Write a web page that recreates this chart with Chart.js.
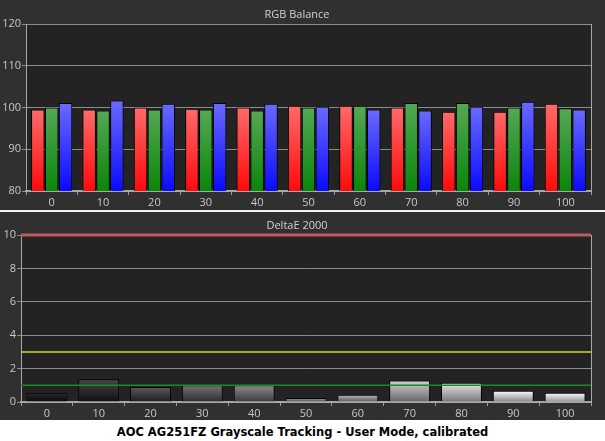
<!DOCTYPE html>
<html>
<head>
<meta charset="utf-8">
<script src="https://cdn.jsdelivr.net/npm/chart.js@4.4.0/dist/chart.umd.min.js"></script>
<style>
  body { margin: 0; background: #fff; }
  #wrap { position: relative; width: 605px; height: 441px; background: #fff; overflow: hidden; }
  #topBox { position: absolute; left: 0; top: 0; width: 605px; height: 210px; background: #303030; }
  #sep { position: absolute; left: 0; top: 210px; width: 605px; height: 2px; background: #f2f2f2; }
  #botBox { position: absolute; left: 0; top: 212px; width: 605px; height: 208px; background: #303030; }
  #caption { position: absolute; left: 0; top: 425px; width: 605px; height: 16px; line-height: 16px;
    text-align: center; font: bold 11.5px "DejaVu Sans", sans-serif; color: #000; }
  canvas { display: block; }
</style>
</head>
<body>
<div id="wrap">
  <div id="topBox"><canvas id="rgb" width="605" height="210"></canvas></div>
  <div id="sep"></div>
  <div id="botBox"><canvas id="de" width="605" height="208"></canvas></div>
  <div id="caption">AOC AG251FZ Grayscale Tracking - User Mode, calibrated</div>
</div>
<script>
// grayscale steps (%)
const levels = ['0', '10', '20', '30', '40', '50', '60', '70', '80', '90', '100'];

// RGB balance
const redVals   = [99.5, 99.5, 100.0, 99.7, 100.0, 100.4, 100.4, 100.0, 99.0, 99.0, 100.9];
const greenVals = [100.0, 99.3, 99.5, 99.5, 99.3, 100.0, 100.4, 101.1, 101.1, 100.0, 99.8];
const blueVals  = [101.1, 101.7, 100.9, 101.1, 100.9, 100.2, 99.5, 99.3, 100.2, 101.4, 99.5];

// DeltaE 2000 per step
const deltaE = [0.56, 1.36, 0.9, 1.0, 1.0, 0.24, 0.44, 1.28, 1.16, 0.68, 0.56];

// threshold lines on the deltaE chart
const deLimits = [10, 3, 1];

const rgbTicks = [80, 90, 100, 110, 120];
const deTicks = [0, 2, 4, 6, 8, 10];

Chart.defaults.font.family = '"Open Sans", sans-serif';
Chart.defaults.font.size = 11;
Chart.defaults.color = '#c8c8c8';
Chart.defaults.animation = false;

function barGradient(c, topCol, botCol) {
  const chart = c.chart;
  if (!chart.chartArea) return botCol;
  const y = chart.scales.y;
  const v = c.dataset.data[c.dataIndex];
  const y0 = y.getPixelForValue(v);
  const y1 = y.getPixelForValue(y.min);
  const g = chart.ctx.createLinearGradient(0, y0, 0, y1);
  g.addColorStop(0, topCol);
  g.addColorStop(1, botCol);
  return g;
}

function grayFor(c) {
  const lvl = parseInt(levels[c.dataIndex]);
  const base = Math.round(lvl / 100 * 235);
  const t = Math.min(255, base + 45), b = Math.max(8, Math.round(base * 0.62));
  return barGradient(c, `rgb(${t},${t},${t})`, `rgb(${b},${b},${b})`);
}

// fill the plot area and draw its frame and a small title
function framePlugin(title, titleY) {
  return {
    id: 'frame',
    beforeDraw(chart) {
      const a = chart.chartArea, ctx = chart.ctx;
      ctx.save();
      ctx.fillStyle = '#232323';
      ctx.fillRect(a.left, a.top, a.right - a.left, a.bottom - a.top);
      ctx.fillStyle = '#d0d0d0';
      ctx.font = '11px "Open Sans", sans-serif';
      ctx.textAlign = 'center';
      ctx.textBaseline = 'middle';
      ctx.fillText(title, 297, titleY);
      ctx.restore();
    },
    afterDraw(chart) {
      const a = chart.chartArea, ctx = chart.ctx;
      ctx.save();
      ctx.strokeStyle = '#a8a8a8';
      ctx.lineWidth = 1;
      ctx.beginPath();
      ctx.moveTo(a.right + 0.5, a.top);
      ctx.lineTo(a.right + 0.5, a.bottom);
      ctx.stroke();
      ctx.restore();
    }
  };
}

const limitPlugin = {
  id: 'limits',
  afterDatasetsDraw(chart) {
    const a = chart.chartArea, ctx = chart.ctx, y = chart.scales.y;
    const styles = [['#bf5a5e', 3], ['#d6d62a', 1.5], ['#1f8a1f', 1.5]];
    ctx.save();
    deLimits.forEach((v, i) => {
      const py = y.getPixelForValue(v);
      ctx.strokeStyle = styles[i][0];
      ctx.lineWidth = styles[i][1];
      ctx.beginPath();
      ctx.moveTo(a.left, py);
      ctx.lineTo(a.right, py);
      ctx.stroke();
    });
    ctx.restore();
  }
};

function axes(min, max, ticks, yWidth, xHeight, yTickLen) {
  return {
    x: {
      offset: true,
      afterFit(s) { s.height = xHeight; },
      grid: { display: true, drawOnChartArea: false, drawTicks: true, tickLength: 4, color: '#9a9a9a', offset: true },
      border: { display: true, color: '#a8a8a8', width: 2 },
      ticks: { padding: 1, color: '#c8c8c8' }
    },
    y: {
      min: min, max: max,
      afterFit(s) { s.width = yWidth; },
      afterBuildTicks(s) { s.ticks = ticks.map(v => ({ value: v })); },
      grid: { color: '#8c8c8c', tickLength: yTickLen, drawTicks: true },
      border: { display: true, color: '#a8a8a8' },
      ticks: { padding: 1, color: '#c8c8c8' }
    }
  };
}

new Chart(document.getElementById('rgb'), {
  type: 'bar',
  data: {
    labels: levels,
    datasets: [
      { label: 'Red', data: redVals, backgroundColor: c => barGradient(c, '#ff6a6a', '#ff0a0a') },
      { label: 'Green', data: greenVals, backgroundColor: c => barGradient(c, '#55a855', '#0a860a') },
      { label: 'Blue', data: blueVals, backgroundColor: c => barGradient(c, '#6a6aff', '#0a0aff') }
    ].map(d => Object.assign(d, { borderColor: '#000', borderWidth: 1, categoryPercentage: 0.81, barPercentage: 0.97 }))
  },
  options: {
    responsive: false,
    layout: { padding: { top: 24, right: 14, left: 0, bottom: 0 } },
    plugins: { legend: { display: false }, tooltip: { enabled: false } },
    scales: axes(80, 120, rgbTicks, 26, 19, 4)
  },
  plugins: [framePlugin('RGB Balance', 15)]
});

new Chart(document.getElementById('de'), {
  type: 'bar',
  data: {
    labels: levels,
    datasets: [{
      label: 'DeltaE 2000', data: deltaE,
      backgroundColor: grayFor, borderColor: '#000', borderWidth: 1,
      categoryPercentage: 0.79, barPercentage: 1
    }]
  },
  options: {
    responsive: false,
    layout: { padding: { top: 23, right: 14, left: 0, bottom: 0 } },
    plugins: { legend: { display: false }, tooltip: { enabled: false } },
    scales: axes(0, 10, deTicks, 21, 18, 4)
  },
  plugins: [framePlugin('DeltaE 2000', 14), limitPlugin]
});
</script>
</body>
</html>
